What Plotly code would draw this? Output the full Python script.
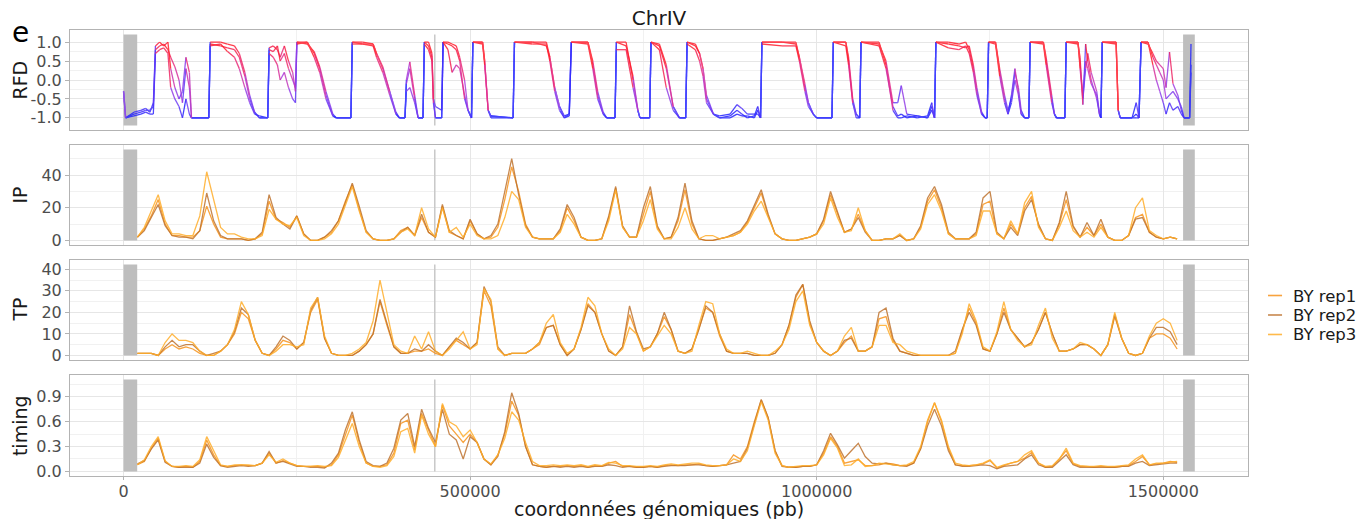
import plotly.graph_objects as go
from plotly.subplots import make_subplots

# ---------------- data (positions in kb) ----------------
pos_kb = list(range(20, 1521, 10))

ip_rep1 = [2, 7, 15, 25, 10, 3, 3, 2, 2, 6,
           21, 10, 2, 1, 1, 1, 0, 1, 4, 24,
           13, 11, 8, 15, 4, 0, 0, 2, 5, 12,
           24, 34, 19, 5, 1, 0, 0, 1, 6, 8,
           3, 14, 5, 2, 21, 5, 3, 1, 12, 4,
           1, 2, 8, 25, 45, 30, 10, 2, 1, 1,
           1, 6, 20, 12, 2, 0, 0, 1, 14, 32,
           8, 2, 2, 16, 30, 8, 1, 2, 12, 31,
           10, 1, 0, 0, 1, 2, 3, 5, 11, 20,
           29, 15, 4, 1, 0, 0, 1, 2, 4, 12,
           28, 16, 5, 7, 16, 6, 0, 0, 1, 1,
           3, 0, 1, 8, 24, 31, 20, 4, 1, 1,
           1, 4, 22, 24, 4, 1, 10, 4, 20, 27,
           9, 1, 0, 10, 25, 8, 2, 8, 3, 10,
           2, 0, 0, 3, 14, 16, 5, 2, 1, 2,
           1]
ip_rep2 = [2, 6, 14, 22, 9, 3, 2, 2, 1, 6,
           29, 12, 3, 1, 1, 1, 0, 1, 5, 28,
           14, 10, 7, 15, 4, 0, 0, 2, 6, 12,
           23, 35, 21, 6, 1, 0, 0, 1, 5, 8,
           3, 16, 5, 2, 22, 6, 3, 1, 13, 4,
           1, 3, 10, 30, 50, 28, 9, 2, 1, 1,
           1, 7, 22, 14, 2, 0, 0, 1, 15, 33,
           9, 2, 2, 20, 33, 9, 1, 2, 14, 35,
           12, 1, 0, 0, 1, 2, 4, 6, 12, 21,
           31, 16, 4, 1, 0, 0, 1, 2, 4, 13,
           30, 17, 5, 7, 14, 5, 0, 0, 1, 1,
           3, 0, 1, 9, 26, 33, 22, 5, 1, 1,
           1, 5, 26, 30, 5, 1, 8, 3, 18, 25,
           10, 1, 0, 11, 30, 9, 2, 11, 3, 13,
           2, 0, 0, 3, 13, 14, 5, 2, 1, 2,
           1]
ip_rep3 = [2, 8, 18, 28, 12, 4, 4, 3, 3, 15,
           42, 25, 8, 4, 4, 2, 1, 1, 3, 19,
           13, 10, 9, 14, 3, 0, 0, 1, 4, 10,
           22, 33, 18, 5, 1, 0, 0, 1, 5, 7,
           3, 20, 7, 2, 20, 5, 8, 2, 10, 3,
           1, 1, 3, 14, 30, 25, 8, 2, 1, 1,
           1, 5, 16, 10, 2, 0, 0, 1, 12, 31,
           8, 2, 2, 12, 25, 7, 1, 1, 8, 20,
           7, 1, 3, 3, 1, 2, 3, 5, 10, 18,
           24, 14, 4, 1, 0, 0, 1, 2, 4, 10,
           26, 14, 5, 6, 20, 6, 0, 0, 1, 1,
           4, 0, 1, 7, 22, 28, 18, 4, 1, 1,
           1, 3, 18, 18, 4, 1, 12, 4, 23, 30,
           8, 1, 0, 8, 18, 6, 2, 5, 2, 8,
           2, 0, 0, 3, 20, 26, 6, 3, 1, 2,
           1]

tp_rep1 = [1, 1, 1, 0, 3, 5, 3, 4, 3, 1,
           0, 0, 2, 5, 10, 20, 17, 7, 1, 0,
           3, 7, 6, 3, 6, 20, 26, 8, 1, 0,
           0, 0, 2, 5, 10, 25, 14, 4, 1, 1,
           2, 2, 3, 1, 0, 4, 7, 5, 3, 6,
           30, 23, 3, 0, 1, 1, 1, 3, 5, 13,
           14, 5, 0, 3, 12, 24, 20, 10, 2, 0,
           4, 19, 10, 2, 4, 10, 18, 12, 2, 1,
           3, 12, 22, 20, 9, 2, 1, 1, 1, 0,
           0, 0, 1, 5, 14, 27, 33, 15, 6, 2,
           0, 2, 6, 9, 2, 2, 4, 17, 18, 7,
           2, 1, 0, 0, 0, 0, 0, 0, 1, 12,
           22, 15, 3, 2, 10, 22, 12, 8, 4, 6,
           12, 20, 10, 2, 2, 3, 5, 5, 3, 0,
           5, 18, 8, 1, 0, 1, 8, 10, 10, 8,
           3]
tp_rep2 = [1, 1, 1, 0, 4, 7, 4, 5, 5, 2,
           0, 1, 2, 5, 11, 22, 19, 7, 1, 0,
           4, 9, 7, 3, 6, 21, 27, 8, 1, 0,
           0, 0, 2, 5, 10, 26, 15, 4, 1, 1,
           3, 2, 5, 2, 0, 4, 8, 6, 3, 6,
           32, 25, 4, 0, 1, 1, 1, 3, 6, 13,
           14, 5, 0, 3, 12, 23, 20, 10, 2, 0,
           4, 23, 11, 3, 4, 10, 20, 12, 2, 1,
           3, 12, 23, 20, 10, 2, 1, 1, 1, 0,
           0, 0, 1, 5, 14, 28, 33, 16, 6, 2,
           0, 2, 7, 8, 2, 2, 4, 20, 22, 8,
           2, 1, 0, 0, 0, 0, 0, 0, 2, 12,
           20, 14, 3, 2, 10, 20, 12, 8, 4, 6,
           12, 20, 10, 2, 2, 3, 5, 5, 3, 0,
           5, 19, 8, 1, 0, 1, 8, 13, 13, 11,
           5]
tp_rep3 = [1, 1, 1, 0, 6, 10, 7, 7, 6, 2,
           0, 0, 2, 5, 12, 25, 19, 7, 1, 0,
           2, 5, 5, 4, 5, 22, 27, 9, 1, 0,
           0, 1, 3, 6, 16, 35, 20, 5, 2, 1,
           9, 3, 11, 2, 0, 3, 7, 11, 3, 5,
           31, 26, 3, 0, 1, 1, 1, 3, 6, 15,
           19, 6, 1, 3, 13, 27, 23, 10, 3, 0,
           3, 13, 10, 2, 4, 9, 14, 10, 2, 1,
           2, 14, 25, 24, 10, 3, 1, 1, 2, 1,
           0, 0, 2, 5, 12, 25, 30, 14, 6, 2,
           0, 2, 9, 13, 2, 2, 4, 14, 14, 6,
           5, 2, 1, 0, 0, 0, 0, 0, 1, 10,
           24, 16, 4, 2, 11, 25, 12, 7, 4, 5,
           14, 22, 8, 2, 2, 3, 6, 5, 3, 0,
           5, 20, 8, 1, 0, 1, 9, 15, 17, 15,
           7]

timing_rep1 = [.08, .12, .28, .40, .12, .06, .05, .06, .05, .12,
               .38, .20, .07, .06, .07, .08, .07, .07, .10, .22,
               .10, .13, .10, .07, .06, .06, .06, .05, .08, .20,
               .45, .68, .35, .10, .06, .06, .08, .22, .58, .62,
               .26, .70, .50, .30, .80, .55, .45, .35, .45, .35,
               .15, .08, .20, .45, .85, .68, .30, .08, .06, .05,
               .06, .06, .07, .06, .07, .05, .07, .06, .10, .12,
               .06, .06, .05, .05, .06, .05, .07, .08, .07, .08,
               .08, .09, .07, .06, .07, .08, .20, .15, .30, .60,
               .86, .65, .25, .07, .05, .05, .06, .06, .08, .22,
               .42, .30, .10, .12, .14, .07, .07, .08, .10, .09,
               .07, .07, .10, .28, .60, .83, .60, .28, .08, .07,
               .07, .08, .09, .13, .04, .07, .10, .12, .16, .23,
               .10, .05, .06, .15, .25, .09, .06, .06, .05, .06,
               .05, .05, .06, .07, .12, .18, .08, .09, .10, .12,
               .11]
timing_rep2 = [.09, .13, .27, .38, .11, .06, .05, .05, .05, .10,
               .33, .17, .07, .05, .06, .07, .06, .07, .10, .24,
               .10, .12, .09, .06, .06, .05, .05, .04, .10, .22,
               .50, .72, .38, .12, .07, .06, .10, .28, .62, .70,
               .30, .75, .52, .35, .75, .45, .38, .15, .42, .35,
               .15, .08, .18, .48, .95, .70, .30, .08, .06, .05,
               .06, .05, .06, .05, .06, .05, .06, .06, .08, .07,
               .05, .06, .05, .05, .06, .05, .06, .07, .07, .07,
               .08, .08, .07, .06, .07, .08, .10, .12, .28, .58,
               .87, .65, .25, .06, .05, .05, .06, .06, .08, .25,
               .46, .32, .16, .25, .34, .18, .10, .09, .10, .08,
               .07, .06, .10, .27, .55, .75, .55, .25, .08, .06,
               .06, .07, .08, .07, .03, .06, .07, .08, .15, .20,
               .08, .05, .05, .12, .20, .08, .05, .05, .05, .05,
               .05, .05, .06, .06, .10, .12, .07, .08, .09, .10,
               .10]
timing_rep3 = [.08, .14, .30, .42, .13, .06, .06, .07, .06, .14,
               .42, .25, .08, .06, .08, .08, .08, .07, .10, .20,
               .11, .15, .10, .07, .06, .06, .07, .06, .07, .17,
               .38, .58, .30, .10, .06, .05, .07, .18, .48, .52,
               .22, .68, .45, .30, .82, .60, .55, .42, .50, .35,
               .15, .09, .20, .40, .72, .62, .35, .12, .07, .07,
               .08, .07, .08, .07, .08, .06, .08, .07, .11, .10,
               .07, .07, .06, .06, .07, .06, .08, .09, .08, .09,
               .10, .10, .08, .07, .07, .08, .15, .12, .25, .55,
               .84, .62, .22, .07, .05, .06, .07, .07, .08, .20,
               .40, .28, .07, .08, .15, .06, .07, .10, .09, .08,
               .07, .08, .12, .30, .62, .83, .62, .30, .10, .08,
               .07, .08, .10, .14, .05, .08, .10, .12, .20, .25,
               .10, .06, .07, .15, .28, .10, .07, .06, .06, .07,
               .06, .06, .07, .08, .15, .20, .08, .10, .10, .11,
               .12]

rfd_pos_kb = [0, 3, 15, 25, 32, 38, 43, 46, 52, 58,
              64, 68, 74, 80, 85, 90, 95, 98, 123, 125,
              140, 150, 160, 167, 175, 182, 189, 196, 208, 210,
              216, 222, 226, 232, 238, 244, 248, 250, 265, 275,
              283, 292, 302, 307, 328, 330, 345, 360, 365, 374,
              384, 393, 398, 406, 408, 413, 420, 425, 432, 434,
              440, 445, 447, 450, 459, 461, 468, 474, 480, 485,
              492, 497, 502, 504, 518, 521, 526, 530, 562, 564,
              590, 610, 615, 622, 629, 636, 643, 646, 670, 677,
              684, 692, 697, 709, 711, 725, 735, 742, 745, 759,
              761, 773, 783, 793, 802, 811, 813, 825, 831, 836,
              841, 851, 860, 875, 885, 892, 900, 910, 915, 919,
              921, 950, 970, 975, 983, 988, 995, 1000, 1022, 1024,
              1042, 1046, 1052, 1057, 1062, 1064, 1090, 1100, 1110, 1117,
              1122, 1130, 1145, 1160, 1166, 1170, 1172, 1190, 1205, 1215,
              1220, 1226, 1231, 1238, 1243, 1246, 1248, 1258, 1264, 1271,
              1276, 1281, 1286, 1291, 1295, 1300, 1306, 1308, 1327, 1331,
              1339, 1343, 1346, 1358, 1360, 1377, 1380, 1384, 1388, 1391,
              1396, 1404, 1408, 1410, 1412, 1432, 1435, 1438, 1455, 1461,
              1465, 1468, 1478, 1485, 1490, 1495, 1500, 1504, 1509, 1514,
              1521, 1526, 1530, 1538, 1540]
rfd_rep1 = [-0.3, -1, -0.85, -0.8, -0.75, -0.85, -0.6, 0.9, 1.0, 0.9,
            1.0, 0.3, -0.2, -0.5, -0.3, 0.6, 0.2, -1, -1, 1.0,
            1.0, 0.95, 0.9, 0.7, 0.2, -0.4, -0.85, -1, -1, 0.85,
            0.9, 0.8, 0.6, 0.9, 0.5, 0.2, -0.3, 1.0, 1.0, 0.7,
            0.3, -0.4, -0.95, -1, -1, 1.0, 1.0, 0.95, 0.7, 0.3,
            -0.3, -0.9, -1, -1, 0.0, 0.48, -0.4, -1, -1, 1.0,
            1.0, 0.7, -0.5, -1, -1, 1.0, 1.0, 0.95, 0.9, 0.6,
            0.0, -0.8, -1, 1, 1.0, 0.5, -0.8, -0.95, -1, 1,
            1.0, 1.0, 0.6, -0.2, -0.7, -1, -0.9, 1, 1.0, 0.4,
            -0.4, -0.9, -1, -1, 1.0, 1.0, 0.0, -0.8, -1, -1,
            1, 0.95, 0.4, -0.7, -1, -1, 1.0, 0.9, 0.7, 0.3,
            -0.5, -0.9, -1, -0.95, -0.8, -0.9, -1, -0.95, -0.7, -1,
            1.0, 1.0, 1.0, 0.6, -0.2, -0.6, -0.9, -1, -1, 1,
            1.0, 0.5, -0.6, -0.9, -1, 1, 1.0, 0.4, -0.8, -1,
            -1, -0.95, -1, -0.95, -0.6, -1, 1, 1.0, 0.95, 1.0,
            0.8, 0.3, -0.3, -0.9, -1, -1, 1, 1.0, 0.2, -0.5,
            -0.9, -0.4, 0.3, -0.3, -0.9, -1, -1, 1, 1.0, 0.5,
            -0.5, -0.9, -1, -1, 1, 1.0, 0.3, -0.5, 0.3, 0.7,
            0.2, -0.3, -0.9, -1, 1, 1.0, -0.8, -1, -1, -0.6,
            -1, 1, 1.0, 0.6, 0.4, 0.2, 0.0, -0.5, -0.4, -0.3,
            -0.5, -0.7, -1, -1, 0.95]
rfd_rep2 = [-0.3, -1, -0.95, -0.9, -0.85, -0.9, -0.9, 0.7, 0.8, 0.85,
            0.7, -0.2, -0.5, -0.7, -1.0, -0.5, -0.9, -1, -1, 0.9,
            0.95, 0.75, 0.6, 0.3, -0.2, -0.6, -0.9, -0.95, -1, 0.7,
            0.6, 0.4, 0.0, 0.2, -0.2, -0.5, -0.6, 0.95, 1.0, 0.6,
            0.2, -0.5, -0.95, -1, -1, 0.95, 0.95, 0.9, 0.6, 0.2,
            -0.4, -0.9, -1, -1, -0.3, -0.2, -0.6, -1, -1, 0.95,
            0.8, 0.5, -0.6, -1, -1, 1.0, 0.8, 0.2, 0.4, 0.3,
            -0.4, -0.8, -1, 1, 0.95, 0.4, -0.8, -1, -1, 1,
            0.95, 0.95, 0.5, -0.3, -0.8, -1, -0.95, 1, 0.95, 0.3,
            -0.5, -0.9, -1, -1, 0.8, 0.8, -0.2, -0.8, -1, -1,
            1, 0.8, -0.2, -0.8, -1, -1, 0.95, 0.8, 0.5, 0.1,
            -0.6, -0.9, -0.95, -0.9, -0.65, -0.75, -0.9, -0.9, -0.9, -1,
            0.95, 0.9, 0.9, 0.5, -0.3, -0.7, -0.9, -1, -1, 1,
            0.9, 0.4, -0.6, -1, -1, 1, 0.9, 0.3, -0.7, -0.95,
            -0.9, -1, -0.95, -1, -0.8, -1, 1, 0.85, 0.8, 0.9,
            0.7, 0.2, -0.4, -0.9, -1, -1, 1, 0.95, 0.1, -0.6,
            -0.9, -0.6, 0.0, -0.4, -0.9, -1, -1, 1, 0.95, 0.4,
            -0.6, -0.9, -1, -1, 1, 0.95, 0.6, -0.65, 0.95, 0.5,
            0.0, -0.5, -0.9, -1, 1, 0.95, -0.8, -1, -1, -1,
            -1, 1, 0.95, 0.7, 0.5, 0.4, 0.3, -0.2, 0.74, -0.1,
            -0.4, -0.8, -1, -1, 0.4]
rfd_rep3 = [-0.3, -1, -0.9, -0.85, -0.8, -0.8, -0.7, 0.8, 0.9, 0.95,
            0.8, 0.6, 0.35, 0.0, -0.6, 0.3, -0.2, -1, -1, 0.95,
            0.9, 0.85, 0.8, 0.6, 0.1, -0.5, -0.85, -1, -1, 0.8,
            0.75, 0.9, 0.5, 0.7, 0.3, 0.0, -0.2, 1.0, 0.95, 0.75,
            0.35, -0.3, -0.9, -1, -1, 1.0, 0.95, 0.95, 0.7, 0.35,
            -0.3, -0.85, -1, -1, -0.1, 0.3, -0.5, -1, -1, 1.0,
            0.9, 0.6, -0.5, -0.7, -0.8, 1.0, 0.95, 0.9, 0.8, 0.5,
            -0.5, -0.8, -1, 1, 1.0, 0.5, -0.8, -0.95, -1, 1,
            1.0, 0.9, 0.6, -0.2, -0.7, -0.95, -0.9, 1, 1.0, 0.5,
            -0.3, -0.85, -1, -1, 1.0, 0.9, 0.1, -0.8, -1, -1,
            1, 0.9, 0.3, -0.7, -1, -1, 1.0, 0.95, 0.7, 0.3,
            -0.4, -0.9, -1, -1, -0.9, -0.95, -0.95, -1, -0.8, -1,
            1.0, 1.0, 0.95, 0.6, -0.1, -0.6, -0.9, -1, -1, 1,
            1.0, 0.6, -0.5, -0.9, -1, 1, 0.95, 0.5, -0.6, -0.6,
            -0.15, -0.9, -0.95, -1, -0.7, -1, 1, 0.95, 0.9, 0.85,
            0.9, 0.4, -0.2, -0.85, -1, -1, 1, 1.0, 0.3, -0.4,
            -0.8, -0.5, 0.2, -0.2, -0.8, -1, -1, 1, 1.0, 0.6,
            -0.4, -0.9, -1, -1, 1, 1.0, 0.4, -0.4, 0.5, 0.3,
            -0.1, -0.4, -0.9, -1, 1, 1.0, -0.8, -1, -1, -0.9,
            -1, 1, 1.0, 0.4, 0.0, -0.3, -0.6, -0.9, -0.6, -0.8,
            -0.7, -0.9, -1, -1, 0.2]

rep_names = ["BY rep1", "BY rep2", "BY rep3"]
rep_colors = ["#F7941D", "#BF7430", "#FFAE2B"]

# masked (shaded) regions and centromere, in kb
masked_kb = [(0, 19.7), (1528.6, 1545.5)]
centromere_kb = 449
shade_extent = [(-1.2, 1.2), (0, 55.6), (0, 42.2), (0, 1.109)]

for arr in (ip_rep1, ip_rep2, ip_rep3, tp_rep1, tp_rep2, tp_rep3,
            timing_rep1, timing_rep2, timing_rep3):
    assert len(arr) == len(pos_kb), len(arr)
for arr in (rfd_rep1, rfd_rep2, rfd_rep3):
    assert len(arr) == len(rfd_pos_kb), len(arr)

# ---------------- figure ----------------
FONT = "DejaVu Sans"
fig = make_subplots(rows=4, cols=1, shared_xaxes=True, vertical_spacing=0.03)

x_bp = [p * 1000 for p in pos_kb]
rfd_x = [p * 1000 for p in rfd_pos_kb]

stops = [(-1.0, (35, 35, 255)), (-0.5, (110, 60, 245)), (0.0, (170, 60, 220)),
         (0.5, (228, 45, 140)), (1.0, (255, 30, 45))]


def rfd_color(v):
    v = max(-1.0, min(1.0, v))
    for (v0, c0), (v1, c1) in zip(stops, stops[1:]):
        if v <= v1:
            t = (v - v0) / (v1 - v0)
            return "rgb(%d,%d,%d)" % tuple(round(a + (b - a) * t) for a, b in zip(c0, c1))
    return "rgb(255,30,45)"


# RFD: each segment coloured by its starting value (like ggplot geom_line)
bins = {}
for rep in (rfd_rep1, rfd_rep2, rfd_rep3):
    for i in range(len(rep) - 1):
        k = round(rep[i] * 10)
        bx, by = bins.setdefault(k, ([], []))
        bx += [rfd_x[i], rfd_x[i + 1], None]
        by += [rep[i], rep[i + 1], None]
for k in sorted(bins):
    bx, by = bins[k]
    fig.add_trace(go.Scatter(x=bx, y=by, mode="lines", showlegend=False,
                             hoverinfo="skip", opacity=0.85,
                             line=dict(color=rfd_color(k / 10), width=1.3)),
                  row=1, col=1)

panels = [(2, (ip_rep1, ip_rep2, ip_rep3)),
          (3, (tp_rep1, tp_rep2, tp_rep3)),
          (4, (timing_rep1, timing_rep2, timing_rep3))]
for row, reps in panels:
    for name, color, vals in zip(rep_names, rep_colors, reps):
        fig.add_trace(go.Scatter(x=x_bp, y=vals, mode="lines", name=name,
                                 legendgroup=name, showlegend=False,
                                 opacity=0.85,
                                 line=dict(color=color, width=1.3)),
                      row=row, col=1)

# shaded regions + centromere
for i, (y0, y1) in enumerate(shade_extent):
    xr = "x" if i == 0 else "x%d" % (i + 1)
    yr = "y" if i == 0 else "y%d" % (i + 1)
    for a, b in masked_kb:
        fig.add_shape(type="rect", xref=xr, yref=yr, x0=a * 1000, x1=b * 1000,
                      y0=y0, y1=y1, fillcolor="#BEBEBE", line_width=0, layer="between")
    fig.add_shape(type="line", xref=xr, yref=yr, x0=centromere_kb * 1000,
                  x1=centromere_kb * 1000, y0=y0, y1=y1,
                  line=dict(color="#C8C8C8", width=1.5), layer="between")

GRID = "#E6E6E6"
MINOR = "#F1F1F1"
BORDER = "#B3B3B3"
TICKF = dict(family=FONT, size=16, color="#4D4D4D")

xcommon = dict(range=[-77250, 1622250], showgrid=True, gridcolor=GRID, gridwidth=1.2,
               tickvals=[0, 500000, 1000000, 1500000],
               ticktext=["0", "500000", "1000000", "1500000"],
               minor=dict(tickvals=[250000, 750000, 1250000], showgrid=True,
                          gridcolor=MINOR, gridwidth=0.8),
               showline=True, mirror=True, linecolor=BORDER, linewidth=1,
               zeroline=False, tickfont=TICKF)
for r in (1, 2, 3):
    fig.update_xaxes(xcommon, showticklabels=False, ticks="", row=r, col=1)
fig.update_xaxes(xcommon, showticklabels=True, ticks="outside", ticklen=3,
                 tickcolor=BORDER, ticklabelstandoff=-2, row=4, col=1)

ycfg = [
    dict(range=[-1.32, 1.32], tickvals=[-1, -0.5, 0, 0.5, 1],
         ticktext=["-1.0", "-0.5", "0.0", "0.5", "1.0"],
         minor=[-0.75, -0.25, 0.25, 0.75], domain=[0.7758, 1.0]),
    dict(range=[-2.78, 58.4], tickvals=[0, 20, 40], ticktext=["0", "20", "40"],
         minor=[10, 30, 50], domain=[0.518, 0.7422]),
    dict(range=[-2.11, 44.3], tickvals=[0, 10, 20, 30, 40],
         ticktext=["0", "10", "20", "30", "40"],
         minor=[5, 15, 25, 35], domain=[0.2601, 0.4843]),
    dict(range=[-0.0555, 1.1645], tickvals=[0, 0.3, 0.6, 0.9],
         ticktext=["0.0", "0.3", "0.6", "0.9"],
         minor=[0.15, 0.45, 0.75, 1.05], domain=[0.0, 0.2265]),
]
for r, c in enumerate(ycfg, start=1):
    fig.update_yaxes(range=c["range"], tickvals=c["tickvals"], ticktext=c["ticktext"],
                     domain=c["domain"], showgrid=True, gridcolor=GRID, gridwidth=1.2,
                     minor=dict(tickvals=c["minor"], showgrid=True, gridcolor=MINOR,
                                gridwidth=0.8),
                     showline=True, mirror=True, linecolor=BORDER, linewidth=1,
                     zeroline=False, ticks="outside", ticklen=4, tickcolor=BORDER,
                     tickfont=TICKF, row=r, col=1)

annos = []
for text, ymid in [("RFD", 0.888), ("IP", 0.6301), ("TP", 0.3722), ("timing", 0.1132)]:
    annos.append(dict(text=text, xref="paper", yref="paper", x=-0.0428, y=ymid,
                      xanchor="center", yanchor="middle", textangle=-90, showarrow=False,
                      font=dict(family=FONT, size=19, color="#1A1A1A")))
annos.append(dict(text="coordonnées génomiques (pb)", xref="paper", yref="paper",
                  x=0.5, y=-0.074, xanchor="center", yanchor="middle", showarrow=False,
                  height=20,
                  font=dict(family=FONT, size=19, color="#1A1A1A")))
annos.append(dict(text="e", xref="paper", yref="paper", x=-0.0424, y=0.9955,
                  xanchor="center", yanchor="middle", showarrow=False,
                  font=dict(family=FONT, size=28, color="#000000")))

# legend (keys + labels) placed to the right of the panels
legend_y = [0.4047, 0.3610, 0.3173]
for name, color, ly in zip(rep_names, rep_colors, legend_y):
    fig.add_shape(type="line", xref="paper", yref="paper",
                  x0=1.0170, x1=1.0289, y0=ly, y1=ly,
                  line=dict(color=color, width=1.6), opacity=0.85)
    annos.append(dict(text=name, xref="paper", yref="paper", x=1.0365, y=ly,
                      xanchor="left", yanchor="middle", showarrow=False, height=18,
                      font=dict(family=FONT, size=16.5, color="#1A1A1A")))

fig.update_layout(
    width=1370, height=524,
    margin=dict(l=70, r=122, t=30, b=48),
    paper_bgcolor="white", plot_bgcolor="white",
    font=dict(family=FONT, color="#1A1A1A"),
    title=dict(text="ChrIV", x=0.5, xref="paper", y=1 - 17.5 / 524, yref="container",
               xanchor="center", yanchor="middle",
               font=dict(family=FONT, size=20, color="#1A1A1A")),
    showlegend=False,
    annotations=annos,
    hovermode=False,
)

# remove the default 8px page margin so the 1370x524 figure fills the window
fig.write_html("out.html",
               config={"displayModeBar": False},
               post_script="document.body.style.margin='0';"
                           "document.body.style.overflow='hidden';")
